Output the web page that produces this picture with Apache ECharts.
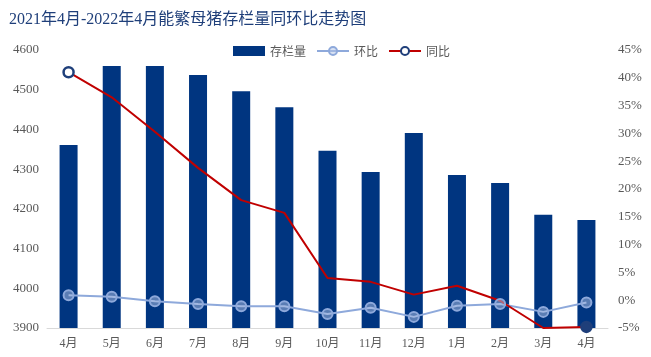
<!DOCTYPE html>
<html><head><meta charset="utf-8">
<script src="https://cdn.jsdelivr.net/npm/echarts@6/dist/echarts.min.js"></script>
<style>html,body{margin:0;padding:0;background:#fff}#c{width:651px;height:357px}</style>
</head><body><div id="c"></div>
<script>
const categories = ['4月','5月','6月','7月','8月','9月','10月','11月','12月','1月','2月','3月','4月'];
const stock = [4361, 4560, 4560, 4537, 4496, 4456, 4346, 4293, 4391, 4285, 4265, 4185, 4172];
const mom = [0.9, 0.6, -0.2, -0.7, -1.1, -1.1, -2.5, -1.35, -3.0, -1.0, -0.7, -2.1, -0.4];
const yoy = [41.0, 36.5, 30.3, 23.8, 18.0, 15.7, 4.0, 3.3, 1.0, 2.6, -0.1, -5.0, -4.8];
const leftTicks = [3900, 4600, 100];
const rightTicks = [-5, 45, 5];

const chart = echarts.init(document.getElementById('c'));
const numFont = '"Liberation Serif", "Noto Sans CJK SC", serif';
chart.setOption({
  animation: false,
  title: {
    text: '2021年4月-2022年4月能繁母猪存栏量同环比走势图',
    left: 4, top: 7,
    textStyle: { color: '#1F3F7A', fontSize: 16, fontWeight: 'normal', fontFamily: '"Liberation Serif", "Noto Sans CJK SC", serif' }
  },
  legend: {
    top: 40, left: 228, itemGap: 10, itemWidth: 32, itemHeight: 10,
    textStyle: { color: '#595959', fontSize: 12, fontFamily: '"Noto Sans CJK SC", sans-serif' },
    data: [
      { name: '存栏量', icon: 'rect' },
      { name: '环比' },
      { name: '同比' }
    ]
  },
  grid: { left: 47, right: 43, top: 50, bottom: 29 },
  xAxis: {
    type: 'category', data: categories,
    axisLine: { onZero: false, lineStyle: { color: '#D9D9D9' } },
    axisTick: { show: false },
    axisLabel: { color: '#595959', fontSize: 12, margin: 10, fontFamily: numFont }
  },
  yAxis: [
    { type: 'value', min: leftTicks[0], max: leftTicks[1], interval: leftTicks[2],
      splitLine: { show: false }, axisLine: { show: false }, axisTick: { show: false },
      axisLabel: { color: '#595959', fontSize: 13, margin: 8, fontFamily: numFont, formatter: v => String(v) } },
    { type: 'value', min: rightTicks[0], max: rightTicks[1], interval: rightTicks[2],
      splitLine: { show: false }, axisLine: { show: false }, axisTick: { show: false },
      axisLabel: { color: '#595959', fontSize: 13, margin: 10, fontFamily: numFont, formatter: v => v + '%' } }
  ],
  series: [
    { name: '存栏量', type: 'bar', data: stock, barWidth: 18, yAxisIndex: 0,
      itemStyle: { color: '#003580' } },
    { name: '环比', type: 'line', data: mom, yAxisIndex: 1,
      symbol: 'circle', symbolSize: 10,
      lineStyle: { color: '#8EA9DB', width: 2 },
      itemStyle: { color: 'rgba(180,198,231,0.5)', borderColor: '#8EA9DB', borderWidth: 2 } },
    { name: '同比', type: 'line', yAxisIndex: 1,
      data: yoy.map((v, i) => i === yoy.length - 1 ? { value: v, itemStyle: { color: '#1F3F7A' } } : v),
      symbol: 'circle',
      symbolSize: (v, p) => (p.dataIndex === 0 || p.dataIndex === yoy.length - 1) ? 10 : 0,
      lineStyle: { color: '#C00000', width: 2 },
      itemStyle: { color: '#ffffff', borderColor: '#1F3F7A', borderWidth: 2.5 } }
  ]
});
</script></body></html>
